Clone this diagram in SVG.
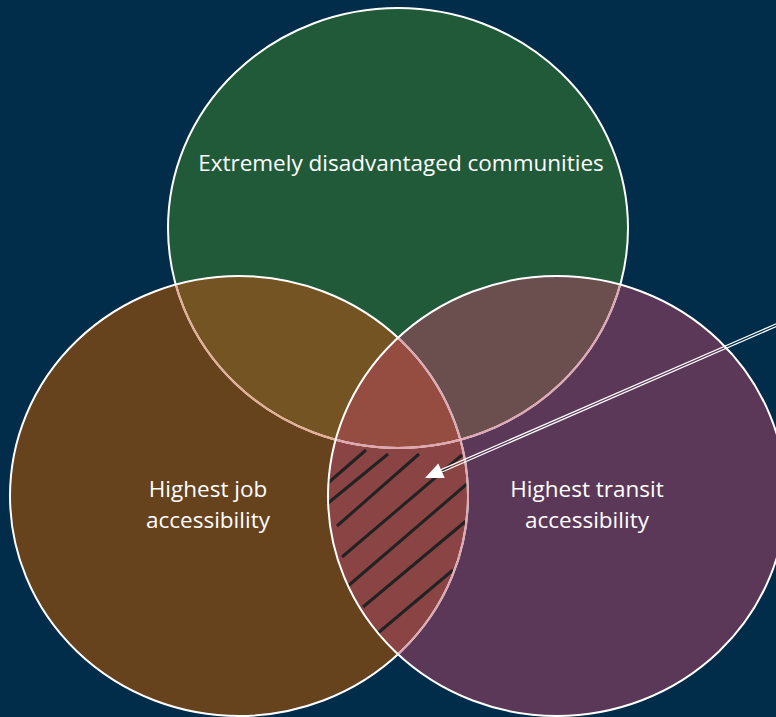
<svg xmlns="http://www.w3.org/2000/svg" width="776" height="717" viewBox="0 0 776 717">
<style>
.lbl{font-family:"Open Sans","Liberation Sans",sans-serif;fill:#ffffff;text-anchor:middle;font-size:22.5px}
.hatch line{stroke:#222222;stroke-width:3}
.ol{fill:none;stroke-width:2}
</style>
<defs>
<clipPath id="cL"><ellipse cx="239" cy="496" rx="229" ry="220"/></clipPath>
<clipPath id="cR"><ellipse cx="557" cy="496" rx="229" ry="220"/></clipPath>
<mask id="arrowMask" maskUnits="userSpaceOnUse" x="0" y="0" width="776" height="717">
<line x1="795" y1="317" x2="441.5" y2="470.8" stroke="#fff" stroke-width="3.8"/>
<line x1="795" y1="317" x2="441.5" y2="470.8" stroke="#000" stroke-width="1.3"/>
</mask>
</defs>
<rect width="776" height="717" fill="#012D4A"/>
<g id="node-green">
<ellipse cx="398" cy="228" rx="230" ry="220" fill="#215A38"/>
<text class="lbl" x="401" y="171">Extremely disadvantaged communities</text>
</g>
<g id="node-job">
<ellipse cx="239" cy="496" rx="229" ry="220" fill="#66421D"/>
<text class="lbl" x="208" y="497">Highest job</text>
<text class="lbl" x="208" y="528">accessibility</text>
</g>
<g id="node-transit">
<ellipse cx="557" cy="496" rx="229" ry="220" fill="#5C3858"/>
<text class="lbl" x="587" y="497">Highest transit</text>
<text class="lbl" x="587" y="528">accessibility</text>
</g>
<g id="overlaps">
<ellipse cx="398" cy="228" rx="230" ry="220" fill="#755424" clip-path="url(#cL)"/>
<ellipse cx="398" cy="228" rx="230" ry="220" fill="#6B4F4E" clip-path="url(#cR)"/>
<ellipse cx="239" cy="496" rx="229" ry="220" fill="#8B4444" clip-path="url(#cR)"/>
<g clip-path="url(#cL)"><ellipse cx="398" cy="228" rx="230" ry="220" fill="#954C41" clip-path="url(#cR)"/></g>
</g>
<g class="hatch" id="hatch">
<line x1="328" y1="483" x2="366" y2="450"/>
<line x1="327" y1="504" x2="388" y2="454"/>
<line x1="337" y1="526" x2="419" y2="454"/>
<line x1="342" y1="557" x2="462" y2="455"/>
<line x1="348" y1="586" x2="468" y2="483"/>
<line x1="363" y1="607" x2="466" y2="521"/>
<line x1="378" y1="633" x2="453" y2="570"/>
</g>
<g id="outlines">
<ellipse class="ol" cx="398" cy="228" rx="230" ry="220" stroke="#ffffff"/>
<ellipse class="ol" cx="398" cy="228" rx="230" ry="220" stroke="#E2AE94" clip-path="url(#cL)"/>
<ellipse class="ol" cx="398" cy="228" rx="230" ry="220" stroke="#DDA8B4" clip-path="url(#cR)"/>
<ellipse class="ol" cx="239" cy="496" rx="229" ry="220" stroke="#ffffff"/>
<ellipse class="ol" cx="239" cy="496" rx="229" ry="220" stroke="#DDA8B4" clip-path="url(#cR)"/>
<ellipse class="ol" cx="557" cy="496" rx="229" ry="220" stroke="#ffffff"/>
</g>
<g id="connectors">
<rect width="776" height="717" fill="#ffffff" mask="url(#arrowMask)"/>
<polygon points="425,478 438.3,463.5 444.7,478.1" fill="#ffffff"/>
</g>
</svg>
